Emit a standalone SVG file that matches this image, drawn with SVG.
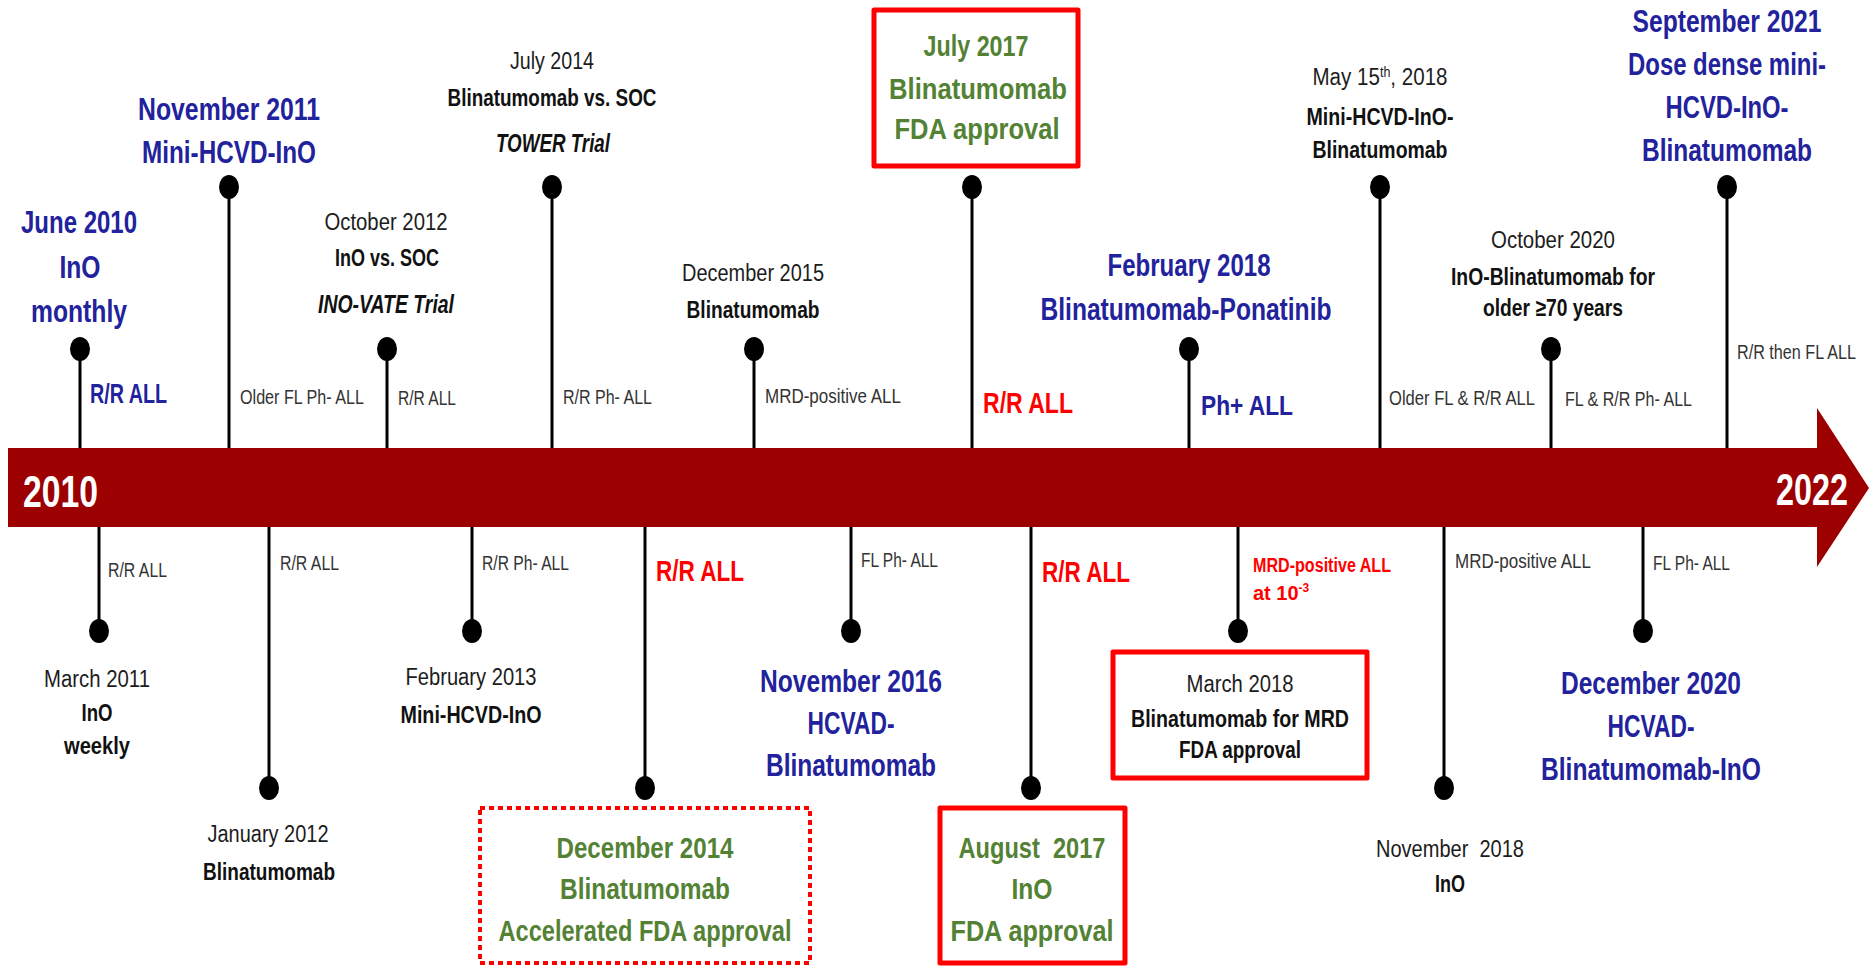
<svg xmlns="http://www.w3.org/2000/svg" width="1869" height="967" viewBox="0 0 1869 967">
<defs>
<style>
text{font-family:"Liberation Sans",Arial,sans-serif}
.blue{font-weight:bold;font-size:31px;fill:#22229C;text-anchor:middle}
.grn{font-weight:bold;font-size:30px;fill:#548235;text-anchor:middle}
.dt{font-size:23px;fill:#1c1c1c;text-anchor:middle}
.bd{font-weight:bold;font-size:24px;fill:#111;text-anchor:middle}
.bi{font-weight:bold;font-style:italic;font-size:25px;fill:#111;text-anchor:middle}
.lb{font-size:20px;fill:#333}
.rr{font-weight:bold;font-size:29px;fill:#FF0000}
.br{font-weight:bold;font-size:28px;fill:#22229C}
.yr{font-weight:bold;font-size:44px;fill:#fff}
.stem{stroke:#000;stroke-width:3;fill:none}
.dot{fill:#000}
.box{fill:none;stroke:#FF0000;stroke-width:5;stroke-linejoin:round}
.dbox{fill:none;stroke:#FF0000;stroke-width:4;stroke-dasharray:5 4}
</style>
</defs>
<rect width="1869" height="967" fill="#fff"/>

<g id="timeline-bar">
<polygon points="8,448 1817,448 1817,408 1869,488 1817,567 1817,527 8,527" fill="#9C0000"/>
<text class="yr" x="23" y="507" textLength="75" lengthAdjust="spacingAndGlyphs">2010</text>
<text class="yr" x="1776" y="505" textLength="72" lengthAdjust="spacingAndGlyphs">2022</text>
</g>

<g id="connectors">
<path class="stem" d="M80,448V349M387,448V349M754,448V349M1189,448V349M1551,448V349"/>
<path class="stem" d="M229,448V187M552,448V187M972,448V187M1380,448V187M1727,448V187"/>
<path class="stem" d="M99,527V631M472,527V631M851,527V631M1238,527V631M1643,527V631"/>
<path class="stem" d="M269,527V788M645,527V788M1031,527V788M1444,527V788"/>
<g class="dot">
<ellipse cx="80" cy="349" rx="10" ry="12"/><ellipse cx="387" cy="349" rx="10" ry="12"/><ellipse cx="754" cy="349" rx="10" ry="12"/><ellipse cx="1189" cy="349" rx="10" ry="12"/><ellipse cx="1551" cy="349" rx="10" ry="12"/>
<ellipse cx="229" cy="187" rx="10" ry="12"/><ellipse cx="552" cy="187" rx="10" ry="12"/><ellipse cx="972" cy="187" rx="10" ry="12"/><ellipse cx="1380" cy="187" rx="10" ry="12"/><ellipse cx="1727" cy="187" rx="10" ry="12"/>
<ellipse cx="99" cy="631" rx="10" ry="12"/><ellipse cx="472" cy="631" rx="10" ry="12"/><ellipse cx="851" cy="631" rx="10" ry="12"/><ellipse cx="1238" cy="631" rx="10" ry="12"/><ellipse cx="1643" cy="631" rx="10" ry="12"/>
<ellipse cx="269" cy="788" rx="10" ry="12"/><ellipse cx="645" cy="788" rx="10" ry="12"/><ellipse cx="1031" cy="788" rx="10" ry="12"/><ellipse cx="1444" cy="788" rx="10" ry="12"/>
</g>
</g>

<g id="june2010">
<text class="blue" x="79" y="233" textLength="116" lengthAdjust="spacingAndGlyphs">June 2010</text>
<text class="blue" x="80" y="278" textLength="41" lengthAdjust="spacingAndGlyphs">InO</text>
<text class="blue" x="79" y="322" textLength="96" lengthAdjust="spacingAndGlyphs">monthly</text>
<text class="br" x="90" y="403" textLength="77" lengthAdjust="spacingAndGlyphs">R/R ALL</text>
</g>

<g id="nov2011">
<text class="blue" x="229" y="120" textLength="182" lengthAdjust="spacingAndGlyphs">November 2011</text>
<text class="blue" x="229" y="163" textLength="174" lengthAdjust="spacingAndGlyphs">Mini-HCVD-InO</text>
<text class="lb" x="240" y="404" textLength="124" lengthAdjust="spacingAndGlyphs">Older FL Ph- ALL</text>
</g>

<g id="oct2012">
<text class="dt" x="386" y="230" textLength="123" lengthAdjust="spacingAndGlyphs">October 2012</text>
<text class="bd" x="387" y="266" textLength="104" lengthAdjust="spacingAndGlyphs">InO vs. SOC</text>
<text class="bi" x="386" y="313" textLength="136" lengthAdjust="spacingAndGlyphs">INO-VATE Trial</text>
<text class="lb" x="398" y="405" textLength="58" lengthAdjust="spacingAndGlyphs">R/R ALL</text>
</g>

<g id="jul2014">
<text class="dt" x="552" y="69" textLength="84" lengthAdjust="spacingAndGlyphs">July 2014</text>
<text class="bd" x="552" y="106" textLength="209" lengthAdjust="spacingAndGlyphs">Blinatumomab vs. SOC</text>
<text class="bi" x="553" y="152" textLength="114" lengthAdjust="spacingAndGlyphs">TOWER Trial</text>
<text class="lb" x="563" y="404" textLength="89" lengthAdjust="spacingAndGlyphs">R/R Ph- ALL</text>
</g>

<g id="dec2015">
<text class="dt" x="753" y="281" textLength="142" lengthAdjust="spacingAndGlyphs">December 2015</text>
<text class="bd" x="753" y="318" textLength="133" lengthAdjust="spacingAndGlyphs">Blinatumomab</text>
<text class="lb" x="765" y="403" textLength="136" lengthAdjust="spacingAndGlyphs">MRD-positive ALL</text>
</g>

<g id="jul2017">
<rect class="box" x="874" y="10" width="204" height="156"/>
<text class="grn" x="976" y="56" textLength="105" lengthAdjust="spacingAndGlyphs">July 2017</text>
<text class="grn" x="978" y="99" textLength="178" lengthAdjust="spacingAndGlyphs">Blinatumomab</text>
<text class="grn" x="977" y="139" textLength="165" lengthAdjust="spacingAndGlyphs">FDA approval</text>
<text class="rr" x="983" y="413" textLength="90" lengthAdjust="spacingAndGlyphs">R/R ALL</text>
</g>

<g id="feb2018">
<text class="blue" x="1189" y="276" textLength="163" lengthAdjust="spacingAndGlyphs">February 2018</text>
<text class="blue" x="1186" y="320" textLength="291" lengthAdjust="spacingAndGlyphs">Blinatumomab-Ponatinib</text>
<text class="br" x="1201" y="415" font-size="30" textLength="92" lengthAdjust="spacingAndGlyphs">Ph+ ALL</text>
</g>

<g id="may2018">
<text class="dt" x="1380" y="85" textLength="135" lengthAdjust="spacingAndGlyphs">May 15<tspan baseline-shift="8" font-size="14">th</tspan>, 2018</text>
<text class="bd" x="1380" y="125" textLength="147" lengthAdjust="spacingAndGlyphs">Mini-HCVD-InO-</text>
<text class="bd" x="1380" y="158" textLength="135" lengthAdjust="spacingAndGlyphs">Blinatumomab</text>
<text class="lb" x="1389" y="405" textLength="146" lengthAdjust="spacingAndGlyphs">Older FL &amp; R/R ALL</text>
</g>

<g id="oct2020">
<text class="dt" x="1553" y="248" textLength="124" lengthAdjust="spacingAndGlyphs">October 2020</text>
<text class="bd" x="1553" y="285" textLength="204" lengthAdjust="spacingAndGlyphs">InO-Blinatumomab for</text>
<text class="bd" x="1553" y="316" textLength="140" lengthAdjust="spacingAndGlyphs">older ≥70 years</text>
<text class="lb" x="1565" y="406" textLength="127" lengthAdjust="spacingAndGlyphs">FL &amp; R/R Ph- ALL</text>
</g>

<g id="sep2021">
<text class="blue" x="1727" y="32" textLength="189" lengthAdjust="spacingAndGlyphs">September 2021</text>
<text class="blue" x="1727" y="75" textLength="198" lengthAdjust="spacingAndGlyphs">Dose dense mini-</text>
<text class="blue" x="1727" y="118" textLength="123" lengthAdjust="spacingAndGlyphs">HCVD-InO-</text>
<text class="blue" x="1727" y="161" textLength="170" lengthAdjust="spacingAndGlyphs">Blinatumomab</text>
<text class="lb" x="1737" y="359" textLength="119" lengthAdjust="spacingAndGlyphs">R/R then FL ALL</text>
</g>

<g id="mar2011">
<text class="lb" x="108" y="577" textLength="59" lengthAdjust="spacingAndGlyphs">R/R ALL</text>
<text class="dt" x="97" y="687" textLength="106" lengthAdjust="spacingAndGlyphs">March 2011</text>
<text class="bd" x="97" y="721" textLength="31" lengthAdjust="spacingAndGlyphs">InO</text>
<text class="bd" x="97" y="754" textLength="66" lengthAdjust="spacingAndGlyphs">weekly</text>
</g>

<g id="jan2012">
<text class="lb" x="280" y="570" textLength="59" lengthAdjust="spacingAndGlyphs">R/R ALL</text>
<text class="dt" x="268" y="842" textLength="121" lengthAdjust="spacingAndGlyphs">January 2012</text>
<text class="bd" x="269" y="880" textLength="132" lengthAdjust="spacingAndGlyphs">Blinatumomab</text>
</g>

<g id="feb2013">
<text class="lb" x="482" y="570" textLength="87" lengthAdjust="spacingAndGlyphs">R/R Ph- ALL</text>
<text class="dt" x="471" y="685" textLength="131" lengthAdjust="spacingAndGlyphs">February 2013</text>
<text class="bd" x="471" y="723" textLength="141" lengthAdjust="spacingAndGlyphs">Mini-HCVD-InO</text>
</g>

<g id="dec2014">
<text class="rr" x="656" y="581" textLength="88" lengthAdjust="spacingAndGlyphs">R/R ALL</text>
<rect class="dbox" x="480" y="808" width="330" height="155"/>
<text class="grn" x="645" y="858" textLength="177" lengthAdjust="spacingAndGlyphs">December 2014</text>
<text class="grn" x="645" y="899" textLength="170" lengthAdjust="spacingAndGlyphs">Blinatumomab</text>
<text class="grn" x="645" y="941" textLength="293" lengthAdjust="spacingAndGlyphs">Accelerated FDA approval</text>
</g>

<g id="nov2016">
<text class="lb" x="861" y="567" textLength="77" lengthAdjust="spacingAndGlyphs">FL Ph- ALL</text>
<text class="blue" x="851" y="692" textLength="182" lengthAdjust="spacingAndGlyphs">November 2016</text>
<text class="blue" x="851" y="734" textLength="87" lengthAdjust="spacingAndGlyphs">HCVAD-</text>
<text class="blue" x="851" y="776" textLength="170" lengthAdjust="spacingAndGlyphs">Blinatumomab</text>
</g>

<g id="aug2017">
<text class="rr" x="1042" y="582" textLength="88" lengthAdjust="spacingAndGlyphs">R/R ALL</text>
<rect class="box" x="940" y="808" width="185" height="155"/>
<text class="grn" x="1032" y="858" textLength="147" lengthAdjust="spacingAndGlyphs" xml:space="preserve">August  2017</text>
<text class="grn" x="1032" y="899" textLength="41" lengthAdjust="spacingAndGlyphs">InO</text>
<text class="grn" x="1032" y="941" textLength="163" lengthAdjust="spacingAndGlyphs">FDA approval</text>
</g>

<g id="mar2018">
<text x="1253" y="572" font-weight="bold" font-size="20" fill="#FF0000" textLength="138" lengthAdjust="spacingAndGlyphs">MRD-positive ALL</text>
<text x="1253" y="600" font-weight="bold" font-size="20" fill="#FF0000">at 10<tspan baseline-shift="8" font-size="12">-3</tspan></text>
<rect class="box" x="1113" y="652" width="254" height="126"/>
<text class="dt" x="1240" y="692" textLength="107" lengthAdjust="spacingAndGlyphs">March 2018</text>
<text class="bd" x="1240" y="727" textLength="218" lengthAdjust="spacingAndGlyphs">Blinatumomab for MRD</text>
<text class="bd" x="1240" y="758" textLength="122" lengthAdjust="spacingAndGlyphs">FDA approval</text>
</g>

<g id="nov2018">
<text class="lb" x="1455" y="568" textLength="136" lengthAdjust="spacingAndGlyphs">MRD-positive ALL</text>
<text class="dt" x="1450" y="857" textLength="148" lengthAdjust="spacingAndGlyphs" xml:space="preserve">November  2018</text>
<text class="bd" x="1450" y="892" textLength="30" lengthAdjust="spacingAndGlyphs">InO</text>
</g>

<g id="dec2020">
<text class="lb" x="1653" y="570" textLength="77" lengthAdjust="spacingAndGlyphs">FL Ph- ALL</text>
<text class="blue" x="1651" y="694" textLength="180" lengthAdjust="spacingAndGlyphs">December 2020</text>
<text class="blue" x="1651" y="737" textLength="87" lengthAdjust="spacingAndGlyphs">HCVAD-</text>
<text class="blue" x="1651" y="780" textLength="220" lengthAdjust="spacingAndGlyphs">Blinatumomab-InO</text>
</g>
</svg>
